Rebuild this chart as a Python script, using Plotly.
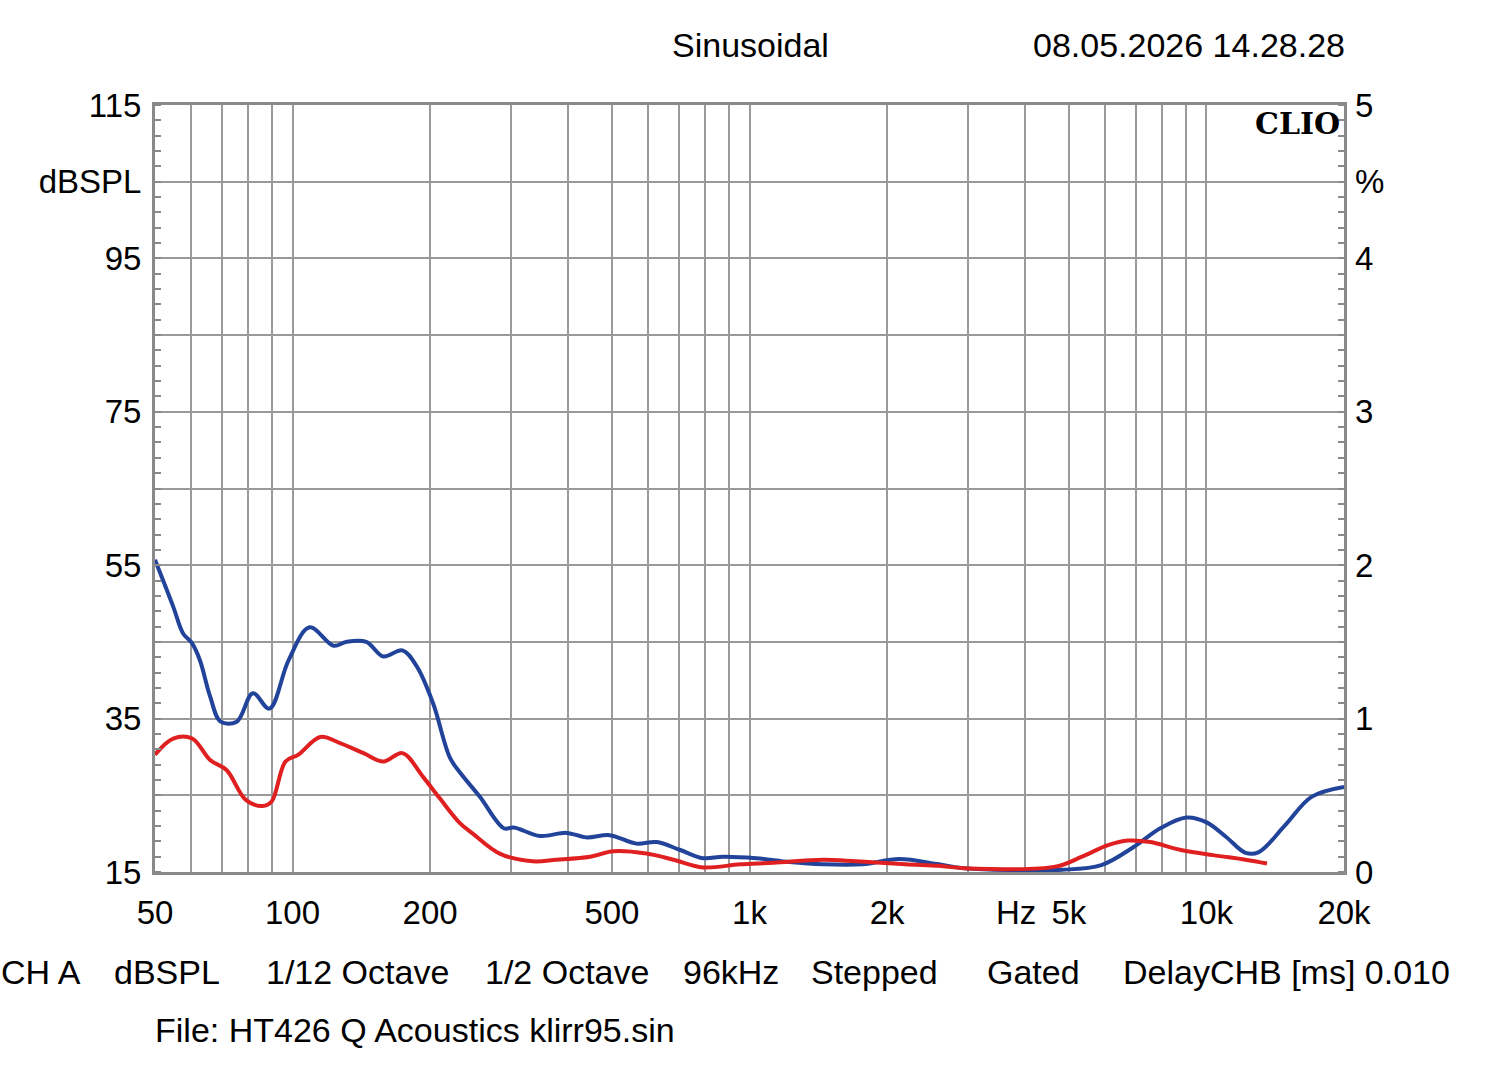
import plotly.graph_objects as go

# ---- data ----
freq_blue = [50, 54.8, 57.6, 60.3, 62.7, 66, 69.6, 75.5, 81.9, 89, 98, 109, 123, 131, 145, 158, 174, 187,
             203, 221, 233, 257, 290, 305, 348, 398, 440, 494, 565, 626, 703, 791, 876, 1035, 1224, 1446,
             1767, 2124, 2596, 2950, 4834, 5889, 6944, 7925, 9040, 9985, 11030, 12180, 13020, 14870,
             16980, 20000]
level_blue = [55.7, 49.6, 46.1, 44.8, 42.6, 37.9, 34.6, 34.6, 38.3, 36.3, 42.6, 46.9, 44.5, 45.0, 45.0, 43.1,
              43.9, 41.8, 37.0, 29.9, 27.9, 24.8, 20.7, 20.8, 19.7, 20.1, 19.5, 19.8, 18.7, 18.9, 17.9, 16.8,
              17.0, 16.8, 16.3, 16.0, 16.0, 16.7, 16.0, 15.5, 15.3, 15.9, 18.3, 20.7, 22.1, 21.5, 19.6, 17.5,
              17.6, 21.1, 24.8, 26.1]

freq_red = [50, 54.8, 60.3, 66, 71.7, 79, 86, 90, 96.5, 103, 115, 127, 143, 158, 174, 193, 210, 233, 248,
            284, 335, 378, 448, 504, 595, 682, 791, 953, 1127, 1446, 1711, 2195, 2596, 2950, 4670, 5340,
            6090, 6730, 7540, 8750, 10330, 12180, 13570]
level_red = [30.3, 32.4, 32.4, 29.6, 28.3, 24.4, 23.6, 24.2, 29.4, 30.3, 32.6, 31.8, 30.5, 29.4, 30.5, 27.4,
             24.6, 21.3, 20.0, 17.4, 16.4, 16.6, 17.0, 17.7, 17.4, 16.6, 15.6, 16.0, 16.2, 16.6, 16.4, 16.0,
             15.8, 15.5, 15.7, 17.0, 18.5, 19.1, 18.9, 17.9, 17.2, 16.6, 16.1]

x_grid = [50, 60, 70, 80, 90, 100, 200, 300, 400, 500, 600, 700, 800, 900,
          1000, 2000, 3000, 4000, 5000, 6000, 7000, 8000, 9000, 10000, 20000]
x_labels = {50: "50", 100: "100", 200: "200", 500: "500", 1000: "1k", 2000: "2k",
            5000: "5k", 10000: "10k", 20000: "20k"}
y_left_vals = [15, 25, 35, 45, 55, 65, 75, 85, 95, 105, 115]
y_left_text = ["15", "", "35", "", "55", "", "75", "", "95", "dBSPL", "115"]
y_right_vals = [0, 0.5, 1, 1.5, 2, 2.5, 3, 3.5, 4, 4.5, 5]
y_right_text = ["0", "", "1", "", "2", "", "3", "", "4", "%", "5"]

bottom_items = [("CH A", 0), ("dBSPL", 113), ("1/12 Octave", 265), ("1/2 Octave", 484),
                ("96kHz", 682), ("Stepped", 810), ("Gated", 986), ("DelayCHB [ms] 0.010", 1122)]

# ---- layout geometry ----
W, H = 1500, 1074
L, R, T, B = 155, 1344, 105, 872
FONT = "Liberation Sans, Arial, sans-serif"
FS = 33


def px(xp):
    return (xp - L) / (R - L)


def py(yp):
    return (B - yp) / (B - T)


fig = go.Figure()
fig.add_trace(go.Scatter(x=freq_blue, y=level_blue, mode="lines",
                         line=dict(color="#21449a", width=4, shape="spline", smoothing=1.0),
                         showlegend=False, hoverinfo="skip"))
fig.add_trace(go.Scatter(x=freq_red, y=level_red, mode="lines",
                         line=dict(color="#e02020", width=4, shape="spline", smoothing=1.0),
                         showlegend=False, hoverinfo="skip"))
# invisible trace to activate the right axis
fig.add_trace(go.Scatter(x=[50], y=[0], yaxis="y2", mode="markers", marker=dict(opacity=0),
                         showlegend=False, hoverinfo="skip"))

grid_col = "#9a9a9a"
frame_col = "#8a8a8a"

fig.update_layout(
    width=W, height=H,
    margin=dict(l=L, r=W - R, t=T, b=H - B),
    paper_bgcolor="white", plot_bgcolor="white",
    font=dict(family=FONT, size=FS, color="black"),
    xaxis=dict(type="log", range=[1.69897, 4.30103],
               tickmode="array", tickvals=x_grid,
               ticktext=[x_labels.get(v, "") for v in x_grid],
               showgrid=True, gridcolor=grid_col, gridwidth=1.5,
               showline=True, linecolor=frame_col, linewidth=3, mirror=True,
               ticks="", ticklabelstandoff=9, zeroline=False,
               tickfont=dict(family=FONT, size=FS)),
    yaxis=dict(range=[15, 115], tickmode="array", tickvals=y_left_vals, ticktext=y_left_text,
               showgrid=True, gridcolor=grid_col, gridwidth=1.5,
               showline=True, linecolor=frame_col, linewidth=3, mirror=True,
               ticks="", ticklabelstandoff=4, zeroline=False,
               minor=dict(ticks="inside", tick0=15, dtick=2, ticklen=6, tickcolor=frame_col, tickwidth=1.5,
                          showgrid=False),
               tickfont=dict(family=FONT, size=FS)),
    yaxis2=dict(range=[0, 5], overlaying="y", side="right",
                tickmode="array", tickvals=y_right_vals, ticktext=y_right_text,
                showgrid=False, zeroline=False, ticks="", ticklabelstandoff=10,
                minor=dict(ticks="inside", tick0=0, dtick=0.1, ticklen=6, tickcolor=frame_col, tickwidth=1.5,
                           showgrid=False),
                tickfont=dict(family=FONT, size=FS)),
)

ann = []
ann.append(dict(x=px(750), y=py(45), xref="paper", yref="paper", text="Sinusoidal",
                showarrow=False, xanchor="center", yanchor="middle", font=dict(family=FONT, size=34)))
ann.append(dict(x=px(1347), y=py(45), xref="paper", yref="paper", text="08.05.2026 14.28.28",
                showarrow=False, xanchor="right", yanchor="middle", font=dict(family=FONT, size=34)))
ann.append(dict(x=px(1342), y=py(123), xref="paper", yref="paper", text="<b>CLIO</b>",
                showarrow=False, xanchor="right", yanchor="middle",
                font=dict(family="DejaVu Serif, serif", size=30, color="black")))
ann.append(dict(x=px(1016), y=py(912), xref="paper", yref="paper", text="Hz",
                showarrow=False, xanchor="center", yanchor="middle", font=dict(family=FONT, size=FS)))
for txt, xl in bottom_items:
    ann.append(dict(x=px(xl), y=py(972), xref="paper", yref="paper", text=txt,
                    showarrow=False, xanchor="left", yanchor="middle", borderpad=0,
                    font=dict(family=FONT, size=34)))
ann.append(dict(x=px(154), y=py(1030), xref="paper", yref="paper",
                text="File: HT426 Q Acoustics klirr95.sin",
                showarrow=False, xanchor="left", yanchor="middle", borderpad=0,
                font=dict(family=FONT, size=34)))
fig.update_layout(annotations=ann)

fig.write_html("out.html")
